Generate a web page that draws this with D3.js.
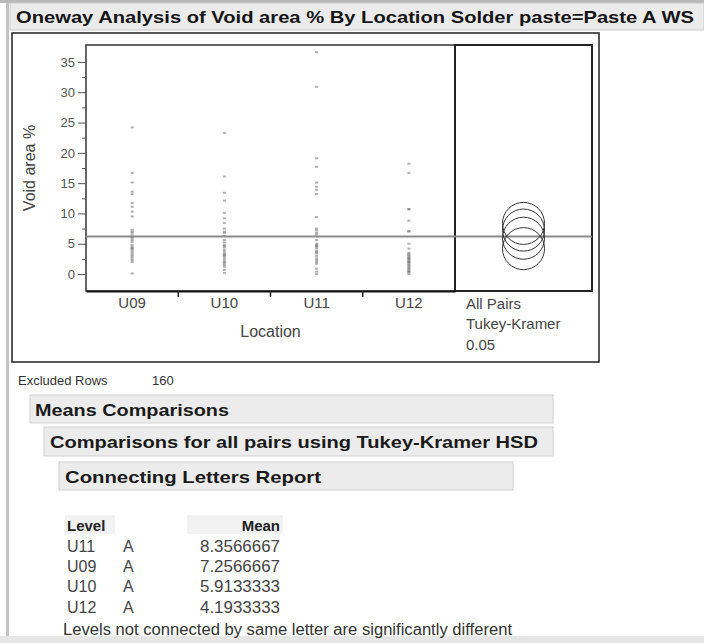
<!DOCTYPE html>
<html><head><meta charset="utf-8">
<script src="https://cdn.jsdelivr.net/npm/d3@7"></script>
<style>
html,body{margin:0;padding:0;background:#fff;}
svg{display:block;font-family:"Liberation Sans",Arial,sans-serif;}
</style>
</head><body>
<svg id="c" width="704" height="643"></svg>
<script>
// ---------- data ----------
const titleText = "Oneway Analysis of Void area % By Location Solder paste=Paste A WS";
const categories = ["U09", "U10", "U11", "U12"];
const valuesU09 = [24.2, 16.7, 15.1, 13.6, 13.2, 11.7, 11.1, 10.3, 9.5, 7.3, 6.8, 6.4, 5.9, 5.3, 4.5, 4.0, 3.4, 2.9, 2.3, 0.1,
                   7.0, 6.1, 5.6, 4.8, 4.2, 3.7, 3.1, 2.6, 2.0, 4.3];
const valuesU10 = [23.3, 16.1, 13.4, 12.1, 10.1, 9.2, 8.4, 7.5, 7.0, 5.2, 4.0, 3.4, 2.9, 2.3, 1.8, 1.2, 0.7, 0.2,
                   6.8, 6.3, 5.6, 4.6, 4.4, 3.7, 3.1, 2.6, 2.0, 1.5, 4.8, 3.2];
const valuesU11 = [36.6, 30.9, 19.1, 17.7, 15.1, 14.4, 13.9, 13.2, 9.4, 7.5, 6.8, 4.5, 3.4, 3.0, 2.3, 1.7, 0.9, 0.4, 0.0,
                   7.2, 6.5, 5.0, 4.8, 4.2, 3.8, 3.6, 2.6, 2.0, 4.6, 5.6];
const valuesU12 = [18.2, 16.7, 10.7, 8.8, 7.0, 5.0, 4.2, 2.6, 2.0, 1.5, 0.9, 0.4, 0.0,
                   3.5, 3.3, 3.1, 2.9, 2.7, 2.5, 2.3, 2.1, 1.9, 1.7, 1.3, 1.1, 0.8, 0.5, 0.3, 10.7, 7.1];
const seriesValues = [valuesU09, valuesU10, valuesU11, valuesU12];
const yTickValues = [0, 5, 10, 15, 20, 25, 30, 35];
const yMinorTickValues = [2.5, 7.5, 12.5, 17.5, 22.5, 27.5, 32.5];
const yTitle = "Void area %";
const xTitle = "Location";
const grandMean = 6.2;
const reportLevels = ["U11", "U09", "U10", "U12"];
const reportLetters = ["A", "A", "A", "A"];
const reportMeans = [8.3566667, 7.2566667, 5.9133333, 4.1933333];
const circleRadius = 3.47;
const testLabels = ["All Pairs", "Tukey-Kramer", "0.05"];
const excludedLabel = "Excluded Rows";
const excludedRows = 160;
const sectionTitles = ["Means Comparisons", "Comparisons for all pairs using Tukey-Kramer HSD", "Connecting Letters Report"];
const tableHeaders = ["Level", "Mean"];
const footnote = "Levels not connected by same letter are significantly different";

// ---------- layout ----------
const svg = d3.select("#c");
const plot = {left: 86, right: 455, top: 45, bottom: 291};
const panel = {left: 455, right: 592};

// page decorations
svg.append("rect").attr("x", 0).attr("y", 0).attr("width", 704).attr("height", 643).attr("fill", "#fff");
svg.append("rect").attr("x", 6).attr("y", 0).attr("width", 3).attr("height", 643).attr("fill", "#c4c4c4");
svg.append("rect").attr("x", 0).attr("y", 636).attr("width", 704).attr("height", 7).attr("fill", "#e6e6e6");
svg.append("rect").attr("x", 0).attr("y", 0).attr("width", 704).attr("height", 3).attr("fill", "#b8b8b8");
svg.append("rect").attr("x", 10).attr("y", 3).attr("width", 694).attr("height", 27)
  .attr("fill", "#ebebeb").attr("stroke", "#c8c8c8");
svg.append("text").attr("x", 16).attr("y", 23).attr("font-size", 17).attr("font-weight", "bold")
  .attr("fill", "#151515").attr("textLength", 678).attr("lengthAdjust", "spacingAndGlyphs").text(titleText);

// outer frame
svg.append("rect").attr("x", 12).attr("y", 33).attr("width", 587).attr("height", 329)
  .attr("fill", "none").attr("stroke", "#222").attr("stroke-width", 1.5);

// scales
const y = d3.scaleLinear().domain([-2.8, 37.8]).range([plot.bottom, plot.top]);
const x = d3.scaleBand().domain(categories).range([plot.left, plot.right]).padding(0);

// frames
svg.append("rect").attr("x", plot.left).attr("y", plot.top).attr("width", plot.right - plot.left)
  .attr("height", plot.bottom - plot.top).attr("fill", "none").attr("stroke", "#333").attr("stroke-width", 1.5);
svg.append("rect").attr("x", panel.left).attr("y", plot.top).attr("width", panel.right - panel.left)
  .attr("height", plot.bottom - plot.top).attr("fill", "none").attr("stroke", "#222").attr("stroke-width", 2);

// y axis
const yAxis = svg.append("g").attr("transform", `translate(${plot.left},0)`)
  .call(d3.axisLeft(y).tickValues(yTickValues).tickSize(8).tickPadding(3));
yAxis.select(".domain").remove();
yAxis.selectAll("line").attr("stroke", "#555");
yAxis.selectAll("text").attr("font-size", 13).attr("fill", "#555").attr("font-family", "Liberation Sans, Arial, sans-serif");
const yMinor = svg.append("g").attr("transform", `translate(${plot.left},0)`)
  .call(d3.axisLeft(y).tickValues(yMinorTickValues).tickSize(4).tickFormat(""));
yMinor.select(".domain").remove();
yMinor.selectAll("line").attr("stroke", "#555");

svg.append("text").attr("transform", `translate(29,${(plot.top + plot.bottom) / 2}) rotate(-90)`)
  .attr("text-anchor", "middle").attr("dominant-baseline", "central")
  .attr("font-size", 16).attr("fill", "#444").text(yTitle);

// x axis
const xAxis = svg.append("g").attr("transform", `translate(0,${plot.bottom})`)
  .call(d3.axisBottom(x).tickSize(0).tickPadding(6));
xAxis.select(".domain").attr("stroke", "#111").attr("stroke-width", 2);
xAxis.selectAll("text").attr("font-size", 15).attr("fill", "#444").attr("font-family", "Liberation Sans, Arial, sans-serif");
svg.append("g").selectAll("line").data(categories.slice(1)).join("line")
  .attr("x1", d => x(d)).attr("x2", d => x(d))
  .attr("y1", plot.bottom).attr("y2", plot.bottom + 6)
  .attr("stroke", "#222").attr("stroke-width", 1.5);
svg.append("text").attr("x", (plot.left + plot.right) / 2 + 0).attr("y", 331)
  .attr("text-anchor", "middle").attr("dominant-baseline", "central")
  .attr("font-size", 16).attr("fill", "#444").text(xTitle);

// points
const pts = svg.append("g");
seriesValues.forEach((vals, i) => {
  const cx = x(categories[i]) + x.bandwidth() / 2;
  pts.selectAll(null).data(vals).join("rect")
    .attr("x", cx - 1.5).attr("y", d => y(d) - 1)
    .attr("width", 3).attr("height", 2)
    .attr("fill", "#7a7a7a").attr("fill-opacity", 0.6);
});

// grand mean line
svg.append("line").attr("x1", plot.left).attr("x2", panel.right)
  .attr("y1", y(grandMean)).attr("y2", y(grandMean))
  .attr("stroke", "#8a8a8a").attr("stroke-width", 2);

// comparison circles
const rPx = y(0) - y(circleRadius);
const ccx = (panel.left + panel.right) / 2;
svg.append("g").selectAll("circle").data(reportMeans).join("circle")
  .attr("cx", ccx).attr("cy", d => y(d)).attr("r", rPx)
  .attr("fill", "none").attr("stroke", "#333").attr("stroke-width", 1);

// test labels
svg.append("g").selectAll("text").data(testLabels).join("text")
  .attr("x", 466).attr("y", (d, i) => 303 + i * 20.5)
  .attr("dominant-baseline", "central").attr("font-size", 15).attr("fill", "#444").text(d => d);

// excluded rows
svg.append("text").attr("x", 18).attr("y", 380).attr("dominant-baseline", "central")
  .attr("font-size", 13).attr("fill", "#333").text(excludedLabel);
svg.append("text").attr("x", 152).attr("y", 380).attr("dominant-baseline", "central")
  .attr("font-size", 13).attr("fill", "#333").text(excludedRows);

// section boxes
const boxes = [
  {x: 30, y: 395, w: 523, h: 28, tx: 35, tl: 194},
  {x: 44, y: 427, w: 509, h: 29, tx: 50, tl: 488},
  {x: 59, y: 462, w: 454, h: 28, tx: 65, tl: 256}
];
boxes.forEach((b, i) => {
  svg.append("rect").attr("x", b.x).attr("y", b.y).attr("width", b.w).attr("height", b.h)
    .attr("fill", "#ececec").attr("stroke", "#d2d2d2");
  svg.append("text").attr("x", b.tx).attr("y", b.y + b.h / 2 + 1).attr("dominant-baseline", "central")
    .attr("font-size", 17).attr("font-weight", "bold").attr("fill", "#1a1a1a")
    .attr("textLength", b.tl).attr("lengthAdjust", "spacingAndGlyphs").text(sectionTitles[i]);
});

// connecting letters table
svg.append("rect").attr("x", 65).attr("y", 515).attr("width", 50).attr("height", 19).attr("fill", "#f2f2f2");
svg.append("rect").attr("x", 187).attr("y", 515).attr("width", 96).attr("height", 19).attr("fill", "#f2f2f2");
svg.append("text").attr("x", 67).attr("y", 525).attr("dominant-baseline", "central")
  .attr("font-size", 15).attr("font-weight", "bold").attr("fill", "#222").text(tableHeaders[0]);
svg.append("text").attr("x", 280).attr("y", 525).attr("dominant-baseline", "central").attr("text-anchor", "end")
  .attr("font-size", 15).attr("font-weight", "bold").attr("fill", "#222").text(tableHeaders[1]);
const rowY = d3.scalePoint().domain(reportLevels).range([546.5, 607]);
const rows = svg.append("g").selectAll("g").data(reportLevels).join("g");
rows.append("text").attr("x", 67).attr("y", d => rowY(d)).attr("dominant-baseline", "central")
  .attr("font-size", 16).attr("fill", "#444").text(d => d);
rows.append("text").attr("x", 123).attr("y", d => rowY(d)).attr("dominant-baseline", "central")
  .attr("font-size", 16).attr("fill", "#444").text((d, i) => reportLetters[i]);
rows.append("text").attr("x", 280).attr("y", d => rowY(d)).attr("dominant-baseline", "central")
  .attr("text-anchor", "end").attr("font-size", 16).attr("fill", "#444")
  .attr("textLength", 80).attr("lengthAdjust", "spacingAndGlyphs")
  .text((d, i) => d3.format(".7f")(reportMeans[i]));
svg.append("text").attr("x", 63).attr("y", 629).attr("dominant-baseline", "central")
  .attr("font-size", 16).attr("fill", "#333").attr("textLength", 449).attr("lengthAdjust", "spacingAndGlyphs")
  .text(footnote);
</script>
</body></html>
